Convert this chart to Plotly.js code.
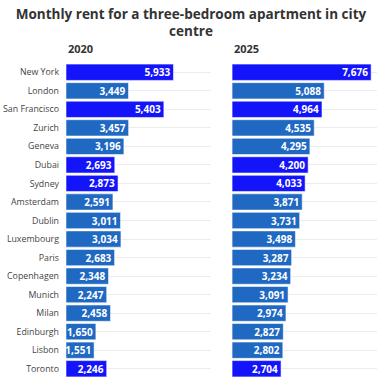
<!DOCTYPE html>
<html>
<head>
<meta charset="utf-8">
<script src="https://cdn.plot.ly/plotly-3.0.1.min.js"></script>
<style>html,body{margin:0;padding:0;background:#fff;}#chart{width:382px;height:378px;}</style>
</head>
<body>
<div id="chart"></div>
<script>
const cities = ["New York","London","San Francisco","Zurich","Geneva","Dubai","Sydney","Amsterdam","Dublin","Luxembourg","Paris","Copenhagen","Munich","Milan","Edinburgh","Lisbon","Toronto"];
const rent2020 = [5933,3449,5403,3457,3196,2693,2873,2591,3011,3034,2683,2348,2247,2458,1650,1551,2246];
const rent2025 = [7676,5088,4964,4535,4295,4200,4033,3871,3731,3498,3287,3234,3091,2974,2827,2802,2704];
const highlighted = ["New York","San Francisco","Dubai","Sydney","Toronto"];

const BRIGHT = "#1414fb";
const STEEL = "#1f69c3";
const FONT = "Open Sans";
const colors = cities.map(c => highlighted.includes(c) ? BRIGHT : STEEL);

function trace(vals, xa, ya) {
  return {
    type: "bar", orientation: "h",
    x: vals, y: cities, xaxis: xa, yaxis: ya,
    marker: {color: colors, line: {color: "rgba(255,255,255,0.55)", width: 1}},
    text: vals.map(v => v.toLocaleString("en-US")),
    textposition: "inside", insidetextanchor: "end", constraintext: "none",
    textfont: {color: "#fff", size: 10, family: FONT, weight: "bold"},
    hoverinfo: "x+y", cliponaxis: false
  };
}

const data = [trace(rent2020, "x", "y"), trace(rent2025, "x2", "y2")];

const layout = {
  width: 382, height: 378,
  margin: {l: 66, r: 5, t: 63, b: 0},
  paper_bgcolor: "#fff", plot_bgcolor: "#fff",
  font: {family: FONT, color: "#444", size: 10},
  showlegend: false,
  bargap: 0.12,
  title: {
    text: "Monthly rent for a three-bedroom apartment in city<br>centre",
    font: {family: FONT, size: 13.5, color: "#333", weight: "bold"},
    x: 0.5, xanchor: "center", y: 0.95, yanchor: "middle", yref: "container"
  },
  xaxis: {domain: [0, 0.466], range: [0, 8000], showticklabels: false, showgrid: false, zeroline: false, fixedrange: true},
  xaxis2: {domain: [0.534, 1], range: [0, 8000], showticklabels: false, showgrid: false, zeroline: false, fixedrange: true},
  yaxis: {autorange: "reversed", showgrid: true, gridcolor: "#ececec", gridwidth: 1, ticks: "", ticklabelstandoff: 6,
          tickfont: {size: 8.8, color: "#444"}, zeroline: false},
  yaxis2: {anchor: "x2", matches: "y", autorange: "reversed", showgrid: true, gridcolor: "#ececec", showticklabels: false, zeroline: false},
  annotations: [
    {text: "2020", xref: "x domain", yref: "paper", x: 0, y: 1.045, xanchor: "left", yanchor: "middle",
     showarrow: false, font: {size: 11, color: "#333", family: FONT, weight: "bold"}},
    {text: "2025", xref: "x2 domain", yref: "paper", x: 0, y: 1.045, xanchor: "left", yanchor: "middle",
     showarrow: false, font: {size: 11, color: "#333", family: FONT, weight: "bold"}}
  ]
};

Plotly.newPlot("chart", data, layout, {displayModeBar: false, staticPlot: true});
</script>
</body>
</html>
